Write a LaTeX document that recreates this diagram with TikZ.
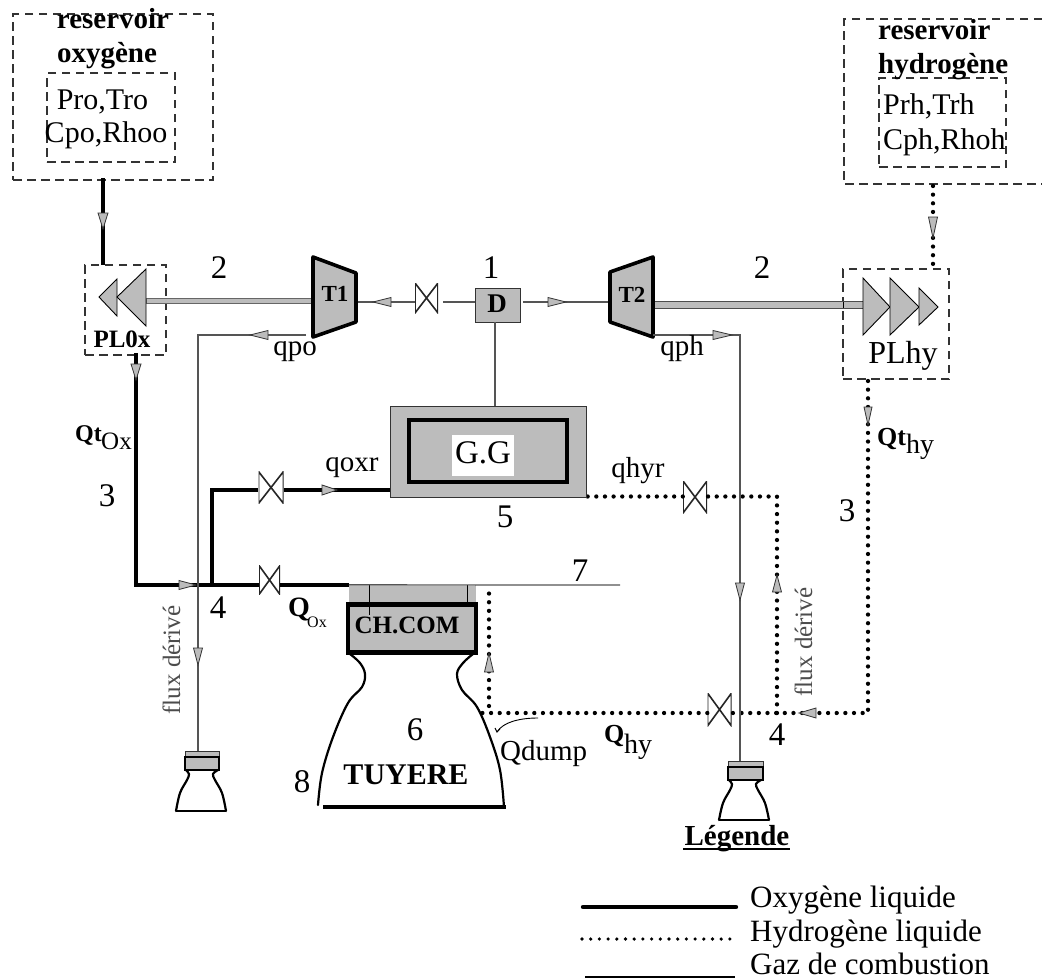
\documentclass[tikz,border=0pt]{standalone}
\usepackage{fontspec}
\setmainfont{Liberation Serif}
\definecolor{hatch}{HTML}{BCBCBC}
\definecolor{gasline}{HTML}{555555}
\newcommand\flowtip[5]{% tip x, tip y, angle of travel (clockwise on the page), length, half width
  \draw[tipsty,rotate around={-#3:(#1,#2)}] (#1,#2) -- ++(-#4,-#5) -- ++(0,2*#5) -- cycle;}
\tikzset{
  x=1pt,y=-1pt,
  txt/.style={inner sep=0pt,anchor=base,text=black,font=\fontsize{#1}{#1}\selectfont},
  btxt/.style={inner sep=0pt,anchor=base,text=black,font=\fontsize{#1}{#1}\selectfont\bfseries},
  ltxt/.style={txt=#1,anchor=base west},
  lbtxt/.style={btxt=#1,anchor=base west},
  flux/.style={inner sep=0pt,anchor=base,rotate=90,text=black!70,font=\fontsize{25}{25}\selectfont},
  dashbox/.style={draw=black!80,line width=1.2pt,dash pattern=on 8.5pt off 5.5pt,inner sep=0pt,minimum width=#1},
  ox/.style={line width=4.8pt,line cap=butt,line join=miter,black},
  hy/.style={line width=4.3pt,line cap=round,dash pattern=on 0pt off 8.65pt,black},
  gas/.style={line width=1.2pt,gasline},
  tipsty/.style={fill=hatch,draw=black!80,line width=.8pt,line join=miter},
  pumpsty/.style={fill=hatch,draw=black,line width=.9pt,line join=miter},
  turbine/.style={fill=hatch,draw=black,line width=3.6pt,line join=round},
  greybox/.style={fill=hatch,draw=black!80,line width=1pt,inner sep=0pt},
  thickbox/.style={fill=hatch,draw=black,line width=4.4pt,inner sep=0pt},
  nozzle/.style={line width=2.2pt,black,line cap=round},
  valve/.style={inner sep=0pt,fill=white,minimum width=#1,
    path picture={\draw[line width=1.6pt,black!85]
      (path picture bounding box.north west)--(path picture bounding box.south east)
      --(path picture bounding box.north east)--(path picture bounding box.south west)--cycle;}},
}
\begin{document}
\begin{tikzpicture}
\useasboundingbox[fill=white] (0,0) rectangle (1042,980);

% ---------- reservoirs
\node[dashbox=200pt,minimum height=166pt] (resO) at (113,97) {};
\node[dashbox=128pt,minimum height=89pt] (resOi) at (111,117.5) {};
\draw[draw=black!80,line width=1.2pt,dash pattern=on 8.5pt off 5.5pt] (1042,19) -- (844,19) -- (844,184) -- (1042,184);
\node[dashbox=127pt,minimum height=89pt] (resHi) at (942.5,122.5) {};
\coordinate (resHout) at (933,186);

% ---------- pump / turbine boxes
\node[dashbox=81pt,minimum height=90pt] (plox) at (125.5,310) {};
\node[dashbox=106pt,minimum height=110pt] (plhy) at (896,324) {};

% ---------- process lines
\coordinate (resOout) at (103,178);
\coordinate (ploxIn) at (103,265);
\coordinate (ploxOut) at (136,353);
\coordinate (j3) at (136,585);
\coordinate (j4) at (212,585);
\coordinate (chIn) at (349,585);
\coordinate (j5) at (212,490);
\coordinate (ggIn) at (390,490);
\coordinate (ggOutR) at (586,496.5);
\coordinate (hyUp) at (777,496.5);
\coordinate (hyJ) at (777,713);
\coordinate (plhyOut) at (868,381);
\coordinate (hyC) at (868,713);
\coordinate (nozJ) at (477,713);
\coordinate (dumpTop) at (489,590);
\coordinate (dumpBot) at (489,706);
\coordinate (plhyIn) at (933,266);

\node[valve=25pt,minimum height=32pt] (vGG) at (271,487.5) {};
\node[valve=21pt,minimum height=29pt] (vCH) at (269.5,580) {};
\node[valve=24pt,minimum height=32pt] (vHr) at (695,497) {};
\node[valve=24pt,minimum height=33pt] (vHc) at (719.5,709.5) {};
\node[valve=23pt,minimum height=30pt] (vT) at (426.5,298) {};

\draw[ox] (resOout) -- (ploxIn);
\draw[ox] (ploxOut) -- (j3) -- (j4) -- (vCH.west |- j4);
\draw[ox] (vCH.east |- j4) -- (chIn);
\draw[ox] (j4) -- (j5) -- (vGG.west |- j5);
\draw[ox] (vGG.east |- j5) -- (ggIn);

\draw[hy] (resHout) -- (plhyIn);
\draw[hy] (plhyOut) -- (hyC) -- (vHc.east |- hyC);
\draw[hy] (vHc.west |- hyC) -- (nozJ);
\draw[hy] (hyJ) -- (hyUp) -- (vHr.east |- hyUp);
\draw[hy] (vHr.west |- hyUp) -- (ggOutR);
\draw[hy] (dumpBot) -- (dumpTop);

% ---------- G.G
\node[greybox,minimum width=196pt,minimum height=91pt] (ggO) at (488,451.5) {};
\node[thickbox,minimum width=158pt,minimum height=62pt] (ggI) at (488,451) {};
\node[txt=33,fill=white,text height=28pt,text depth=13pt,minimum width=62pt] (ggL) at (483,463) {G.G};

% ---------- D, turbines, shafts
\node[greybox,minimum width=45pt,minimum height=34pt] (D) at (497.5,305) {};
\node[btxt=27] (Dl) at (497,312) {D};
\coordinate (dn) at (495,322);
\draw[gas] (dn) -- (dn |- ggO.north);

\coordinate (t1a) at (356,302);
\coordinate (t2a) at (610,302);
\coordinate (dl) at (475,302);
\coordinate (dr) at (523,302);
\draw[gas] (t1a) -- (vT.west |- t1a);
\draw[gas] (vT.east |- t1a) ++(5,0) -- (dl);
\draw[gas] (dr) -- (t2a);

\coordinate (shO1) at (146,298);
\coordinate (shO2) at (313,303);
\coordinate (shH1) at (654,301.5);
\coordinate (shH2) at (863,308.5);
\draw[fill=hatch,draw=black!60,line width=.9pt] (shO1) rectangle (shO2);
\draw[fill=hatch,draw=black!70,line width=.9pt] (shH1) rectangle (shH2);
\draw[black,line width=1pt] (843,302) -- (843,308);

\draw[turbine] (313,257) -- (356,273) -- (356,322) -- (313,337) -- cycle;
\draw[turbine] (610,272) -- (653,257) -- (653,337) -- (610,322) -- cycle;
\node[btxt=23] (t1) at (335,301) {T1};
\node[btxt=23] (t2) at (632,302) {T2};

\draw[pumpsty] (99,297) -- (117,279) -- (117,316) -- cycle;
\draw[pumpsty] (117,297) -- (146,269) -- (146,326) -- cycle;
\draw[pumpsty] (863,278) -- (890,307) -- (863,335) -- cycle;
\draw[pumpsty] (890,278) -- (919,307) -- (890,335) -- cycle;
\draw[pumpsty] (919,288) -- (938,307) -- (919,325) -- cycle;

% ---------- gas lines to the small nozzles
\node[greybox,minimum width=34pt,minimum height=6pt] (nLt) at (202,754) {};
\node[thickbox,line width=1.8pt,minimum width=34pt,minimum height=13pt] (nLb) at (202,763.5) {};
\node[greybox,minimum width=35pt,minimum height=6pt] (nRt) at (745.5,764) {};
\node[thickbox,line width=1.8pt,minimum width=35pt,minimum height=13pt] (nRb) at (745.5,773.5) {};
\coordinate (qpoS) at (306,335);
\coordinate (qpoT) at (198,335);
\coordinate (qphS) at (653,335);
\coordinate (qphT) at (740,335);
\draw[gas] (qpoS) -- (qpoT) -- (qpoT |- nLt.north);
\draw[gas] (qphS) -- (qphT) -- (qphT |- nRt.north);

% ---------- combustion chamber
\node[fill=hatch,inner sep=0pt,minimum width=127pt,minimum height=20pt] (chT) at (412.5,595) {};
\node[thickbox,minimum width=128pt,minimum height=48pt] (ch) at (412,628.5) {};
\draw[black,line width=1pt] (369,585) -- (369,615);
\draw[black,line width=1pt] (467,585) -- (467,607);
\coordinate (seven) at (620,585);
\draw[gas] (chT.north west) -- (seven);

% ---------- nozzles
\draw[nozzle] plot[smooth,tension=.6] coordinates {(350,654) (360,663) (365,674) (362,687) (348,703) (333,737) (322,773) (318,805)};
\draw[nozzle] plot[smooth,tension=.6] coordinates {(473,654) (463,663) (457,674) (462,690) (477,707) (490,737) (500,770) (504,807)};
\draw[line width=3.2pt,black] (323,807) -- (506,807);
\draw[nozzle] plot[smooth,tension=.6] coordinates {(186,770) (189,774) (187,780) (180,793) (176,811)};
\draw[nozzle] plot[smooth,tension=.6] coordinates {(218,770) (213,774) (215,780) (222,793) (226,811)};
\draw[line width=1.6pt] (176,811) -- (226,811);
\draw[nozzle] plot[smooth,tension=.6] coordinates {(729,780) (732,784) (730,790) (723,803) (719,820)};
\draw[nozzle] plot[smooth,tension=.6] coordinates {(761,780) (756,784) (758,790) (765,803) (769,820)};
\draw[line width=1.6pt] (719,820) -- (769,820);

% ---------- flow tips
\flowtip{103}{229}{90}{16}{5}
\flowtip{136}{380}{90}{16}{5}
\flowtip{196}{585}{0}{17}{4.5}
\flowtip{337}{490}{0}{15}{5}
\flowtip{373}{302}{180}{18}{4.5}
\flowtip{250}{335}{180}{18}{4.5}
\flowtip{198}{665}{90}{17}{4.5}
\flowtip{566}{302}{0}{18}{4.5}
\flowtip{732}{335}{0}{19}{4.5}
\flowtip{740}{600}{90}{17}{4.5}
\flowtip{933}{238}{90}{21}{4.5}
\flowtip{868}{425}{90}{18}{4}
\flowtip{799}{713}{180}{17}{5}
\flowtip{777}{575}{-90}{17}{4.5}
\flowtip{489}{653}{-90}{19}{4.5}

% ---------- Qdump arrow
\coordinate (qdS) at (538,718);
\coordinate (qdE) at (497,732);
\draw[line width=.9pt,black] (qdS) .. controls (520,718) and (503,722) .. (qdE);
\draw[line width=.9pt,black] (495,728) -- (qdE) -- (500,729);

% ---------- texts
\node[btxt=29] (t01) at (113,28) {reservoir};
\node[btxt=29] (t02) at (107,62) {oxygène};
\node[txt=30] (t03) at (102.5,109) {Pro,Tro};
\node[txt=30] (t04) at (106,142) {Cpo,Rhoo};
\node[lbtxt=29] (t05) at (878,39) {reservoir};
\node[lbtxt=29] (t06) at (878,73) {hydrogène};
\node[ltxt=30] (t07) at (883,114) {Prh,Trh};
\node[ltxt=30] (t08) at (883,149) {Cph,Rhoh};
\node[btxt=25] (t09) at (122,347) {PL0x};
\node[txt=32] (t10) at (903,363) {PLhy};
\node[txt=33] (t11) at (219,278) {2};
\node[txt=33] (t12) at (491,278) {1};
\node[txt=33] (t13) at (762,278) {2};
\node[txt=29] (t14) at (295,355) {qpo};
\node[txt=29] (t15) at (682,355) {qph};
\node[lbtxt=24] (t16) at (75,441) {Qt};
\node[ltxt=25] (t17) at (101,449) {Ox};
\node[txt=33] (t18) at (107,506) {3};
\node[lbtxt=26] (t19) at (877,445) {Qt};
\node[ltxt=28] (t20) at (906,453) {hy};
\node[txt=33] (t21) at (847,521) {3};
\node[txt=29] (t22) at (352,471) {qoxr};
\node[txt=29] (t23) at (638,477) {qhyr};
\node[txt=33] (t24) at (505,527) {5};
\node[txt=33] (t25) at (580,581) {7};
\node[txt=33] (t26) at (218,618) {4};
\node[lbtxt=28] (t27) at (288,616) {Q};
\node[ltxt=16] (t28) at (307,627) {Ox};
\node[btxt=25] (t29) at (407,633) {CH.COM};
\node[txt=33] (t30) at (415,740) {6};
\node[btxt=30] (t31) at (406,784) {TUYERE};
\node[txt=33] (t32) at (302,792) {8};
\node[ltxt=29] (t33) at (500,760) {Qdump};
\node[lbtxt=26] (t34) at (604,742) {Q};
\node[ltxt=28] (t35) at (624,753) {hy};
\node[txt=33] (t36) at (777,745) {4};
\node[flux] (t37) at (180,660) {flux dérivé};
\node[flux] (t38) at (812,642) {flux dérivé};

% ---------- legend
\node[btxt=29] (leg) at (737,845) {Légende};
\coordinate (legU1) at (683,849);
\coordinate (legU2) at (790,849);
\draw[line width=2.6pt] (legU1) -- (legU2);
\coordinate (l1a) at (583,907);
\coordinate (l1b) at (736,907);
\coordinate (l2a) at (582,939);
\coordinate (l2b) at (731,939);
\coordinate (l3a) at (585,977);
\coordinate (l3b) at (735,977);
\draw[line width=4.4pt,line cap=round] (l1a) -- (l1b);
\draw[line width=3.6pt,line cap=round,dash pattern=on 0pt off 8.7pt] (l2a) -- (l2b);
\draw[line width=1.2pt,black] (l3a) -- (l3b);
\node[ltxt=31] (t39) at (750,907) {Oxygène liquide};
\node[ltxt=31] (t40) at (750,941) {Hydrogène liquide};
\node[ltxt=31] (t41) at (750,974) {Gaz de combustion};
\end{tikzpicture}
\end{document}
